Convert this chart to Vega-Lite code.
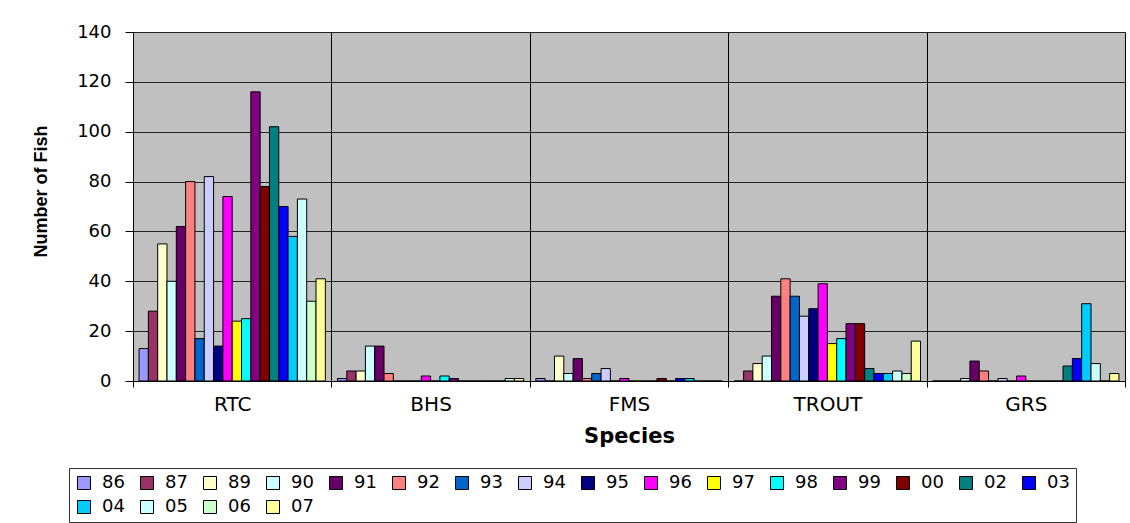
{
  "$schema": "https://vega.github.io/schema/vega-lite/v6.json",
  "autosize": {"type": "none"},
  "padding": {"left": 133, "top": 32, "right": 5, "bottom": 142},
  "width": 992,
  "height": 349,
  "background": "white",
  "config": {
    "font": "DejaVu Sans",
    "view": {"fill": "#C0C0C0", "stroke": "#808080", "strokeWidth": 1},
    "axis": {"labelFont": "DejaVu Sans", "titleFont": "DejaVu Sans", "labelColor": "black", "titleColor": "black", "domainColor": "black", "tickColor": "black"}
  },
  "data": {"values": [
    {"species": "RTC", "year": "86", "count": 13}, {"species": "RTC", "year": "87", "count": 28}, {"species": "RTC", "year": "89", "count": 55}, {"species": "RTC", "year": "90", "count": 40}, {"species": "RTC", "year": "91", "count": 62}, {"species": "RTC", "year": "92", "count": 80}, {"species": "RTC", "year": "93", "count": 17}, {"species": "RTC", "year": "94", "count": 82}, {"species": "RTC", "year": "95", "count": 14}, {"species": "RTC", "year": "96", "count": 74}, {"species": "RTC", "year": "97", "count": 24}, {"species": "RTC", "year": "98", "count": 25}, {"species": "RTC", "year": "99", "count": 116}, {"species": "RTC", "year": "00", "count": 78}, {"species": "RTC", "year": "02", "count": 102}, {"species": "RTC", "year": "03", "count": 70}, {"species": "RTC", "year": "04", "count": 58}, {"species": "RTC", "year": "05", "count": 73}, {"species": "RTC", "year": "06", "count": 32}, {"species": "RTC", "year": "07", "count": 41},
    {"species": "BHS", "year": "86", "count": 1}, {"species": "BHS", "year": "87", "count": 4}, {"species": "BHS", "year": "89", "count": 4}, {"species": "BHS", "year": "90", "count": 14}, {"species": "BHS", "year": "91", "count": 14}, {"species": "BHS", "year": "92", "count": 3}, {"species": "BHS", "year": "93", "count": 0}, {"species": "BHS", "year": "94", "count": 0}, {"species": "BHS", "year": "95", "count": 0}, {"species": "BHS", "year": "96", "count": 2}, {"species": "BHS", "year": "97", "count": 0}, {"species": "BHS", "year": "98", "count": 2}, {"species": "BHS", "year": "99", "count": 1}, {"species": "BHS", "year": "00", "count": 0}, {"species": "BHS", "year": "02", "count": 0}, {"species": "BHS", "year": "03", "count": 0}, {"species": "BHS", "year": "04", "count": 0}, {"species": "BHS", "year": "05", "count": 0}, {"species": "BHS", "year": "06", "count": 1}, {"species": "BHS", "year": "07", "count": 1},
    {"species": "FMS", "year": "86", "count": 1}, {"species": "FMS", "year": "87", "count": 0}, {"species": "FMS", "year": "89", "count": 10}, {"species": "FMS", "year": "90", "count": 3}, {"species": "FMS", "year": "91", "count": 9}, {"species": "FMS", "year": "92", "count": 1}, {"species": "FMS", "year": "93", "count": 3}, {"species": "FMS", "year": "94", "count": 5}, {"species": "FMS", "year": "95", "count": 0}, {"species": "FMS", "year": "96", "count": 1}, {"species": "FMS", "year": "97", "count": 0}, {"species": "FMS", "year": "98", "count": 0}, {"species": "FMS", "year": "99", "count": 0}, {"species": "FMS", "year": "00", "count": 1}, {"species": "FMS", "year": "02", "count": 0}, {"species": "FMS", "year": "03", "count": 1}, {"species": "FMS", "year": "04", "count": 1}, {"species": "FMS", "year": "05", "count": 0}, {"species": "FMS", "year": "06", "count": 0}, {"species": "FMS", "year": "07", "count": 0},
    {"species": "TROUT", "year": "86", "count": 0}, {"species": "TROUT", "year": "87", "count": 4}, {"species": "TROUT", "year": "89", "count": 7}, {"species": "TROUT", "year": "90", "count": 10}, {"species": "TROUT", "year": "91", "count": 34}, {"species": "TROUT", "year": "92", "count": 41}, {"species": "TROUT", "year": "93", "count": 34}, {"species": "TROUT", "year": "94", "count": 26}, {"species": "TROUT", "year": "95", "count": 29}, {"species": "TROUT", "year": "96", "count": 39}, {"species": "TROUT", "year": "97", "count": 15}, {"species": "TROUT", "year": "98", "count": 17}, {"species": "TROUT", "year": "99", "count": 23}, {"species": "TROUT", "year": "00", "count": 23}, {"species": "TROUT", "year": "02", "count": 5}, {"species": "TROUT", "year": "03", "count": 3}, {"species": "TROUT", "year": "04", "count": 3}, {"species": "TROUT", "year": "05", "count": 4}, {"species": "TROUT", "year": "06", "count": 3}, {"species": "TROUT", "year": "07", "count": 16},
    {"species": "GRS", "year": "86", "count": 0}, {"species": "GRS", "year": "87", "count": 0}, {"species": "GRS", "year": "89", "count": 0}, {"species": "GRS", "year": "90", "count": 1}, {"species": "GRS", "year": "91", "count": 8}, {"species": "GRS", "year": "92", "count": 4}, {"species": "GRS", "year": "93", "count": 0}, {"species": "GRS", "year": "94", "count": 1}, {"species": "GRS", "year": "95", "count": 0}, {"species": "GRS", "year": "96", "count": 2}, {"species": "GRS", "year": "97", "count": 0}, {"species": "GRS", "year": "98", "count": 0}, {"species": "GRS", "year": "99", "count": 0}, {"species": "GRS", "year": "00", "count": 0}, {"species": "GRS", "year": "02", "count": 6}, {"species": "GRS", "year": "03", "count": 9}, {"species": "GRS", "year": "04", "count": 31}, {"species": "GRS", "year": "05", "count": 7}, {"species": "GRS", "year": "06", "count": 0}, {"species": "GRS", "year": "07", "count": 3}
  ]},
  "mark": {"type": "bar", "stroke": "black", "strokeWidth": 1, "opacity": 1},
  "encoding": {
    "x": {
      "field": "species", "type": "nominal",
      "sort": ["RTC", "BHS", "FMS", "TROUT", "GRS"],
      "scale": {"paddingInner": 0, "paddingOuter": 0},
      "axis": {
        "title": "Species", "titleFontSize": 21, "titleFontWeight": "bold", "titlePadding": 11,
        "labelAngle": 0, "labelFontSize": 20, "labelPadding": 7,
        "tickBand": "extent", "tickSize": 6, "grid": true, "gridColor": "black", "gridOpacity": 1, "gridWidth": 1
      }
    },
    "xOffset": {
      "field": "year", "type": "nominal",
      "scale": {"domain": ["86", "87", "89", "90", "91", "92", "93", "94", "95", "96", "97", "98", "99", "00", "02", "03", "04", "05", "06", "07"], "paddingInner": 0, "paddingOuter": 0.65}
    },
    "y": {
      "field": "count", "type": "quantitative",
      "scale": {"domain": [0, 140], "nice": false},
      "axis": {
        "title": "Number of Fish", "titleFont": "Liberation Sans Narrow, Liberation Sans", "titleFontSize": 18, "titleFontWeight": "bold",
        "titleX": -92, "titleY": 159, "titleAngle": -90, "titleAlign": "center", "titleBaseline": "middle",
        "values": [0, 20, 40, 60, 80, 100, 120, 140], "labelFontSize": 18, "labelPadding": 14, "tickSize": 8,
        "grid": true, "gridColor": "#222222", "gridOpacity": 1, "gridWidth": 1
      }
    },
    "color": {
      "field": "year", "type": "nominal",
      "scale": {
        "domain": ["86", "87", "89", "90", "91", "92", "93", "94", "95", "96", "97", "98", "99", "00", "02", "03", "04", "05", "06", "07"],
        "range": ["#9999FF", "#993366", "#FFFFCC", "#CCFFFF", "#660066", "#FF8080", "#0066CC", "#CCCCFF", "#000080", "#FF00FF", "#FFFF00", "#00FFFF", "#800080", "#800000", "#008080", "#0000FF", "#00CCFF", "#CCFFFF", "#CCFFCC", "#FFFF99"]
      },
      "legend": {
        "title": null, "orient": "none", "legendX": -64, "legendY": 436,
        "direction": "horizontal", "columns": 16, "columnPadding": 13, "rowPadding": 6,
        "padding": 6, "strokeColor": "#333333", "fillColor": "white",
        "symbolType": "square", "symbolSize": 169, "symbolStrokeColor": "black", "symbolStrokeWidth": 1, "symbolOpacity": 1,
        "labelFontSize": 18, "labelColor": "black", "labelOffset": 9, "labelFont": "DejaVu Sans"
      }
    }
  }
}
